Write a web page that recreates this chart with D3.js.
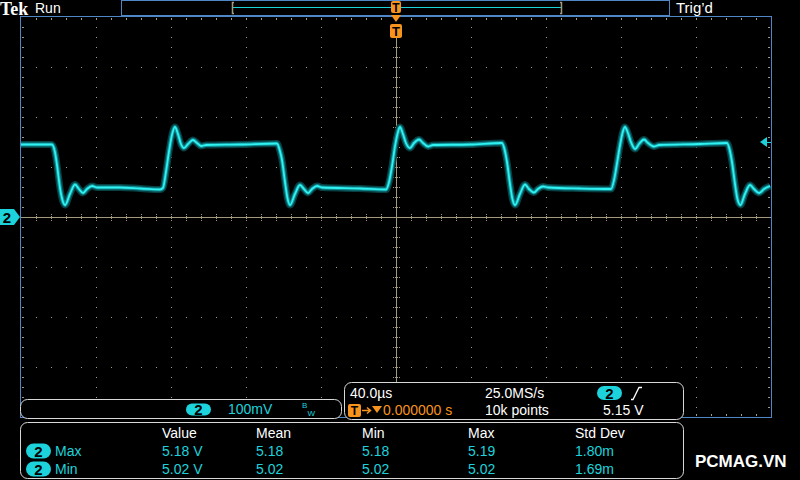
<!DOCTYPE html>
<html>
<head>
<meta charset="utf-8">
<script src="https://cdn.jsdelivr.net/npm/d3@7"></script>
<style>
  html, body { margin: 0; padding: 0; background: #000; }
  svg { display: block; font-family: "Liberation Sans", Arial, sans-serif; }
</style>
</head>
<body>
<div id="scope"></div>
<script>
// trace: time in µs (40 µs/div), ch2 in volts (100 mV/div, 5.00 V at centre)
const timeUs = [-200, -192.5, -183.5, -181.9, -180.8, -179.2, -177.9, -176.5, -173.9, -171.2, -169.1, -166.9, -164.8, -162.1, -159.5,
  -147.2, -136.5, -125.9, -124.3, -122.7, -121.1, -119.5, -117.9, -116.3, -114.7, -113.1, -110.9, -108.3, -106.1, -104.0, -101.3,
  -83.2, -63.5, -61.9, -60.8, -59.2, -57.9, -56.5, -53.9, -51.2, -49.1, -46.9, -44.8, -42.1, -39.5,
  -19.2, -5.3, -3.7, -2.1, -0.5, 0.8, 2.1, 3.7, 5.3, 7.5, 9.6, 12.3, 14.4, 17.1, 19.7,
  39.5, 56.5, 58.1, 59.2, 60.8, 62.1, 63.5, 66.1, 68.8, 70.9, 73.6, 75.7, 78.4, 81.1,
  98.1, 114.7, 116.3, 117.9, 119.5, 120.8, 122.1, 123.7, 125.3, 127.5, 129.6, 132.3, 134.4, 137.6, 140.3,
  162.1, 176.5, 178.1, 179.2, 180.8, 182.1, 183.7, 186.1, 188.8, 190.9, 193.6, 196.3, 199.5];
const ch2Volts = [5.145, 5.145, 5.145, 5.130, 5.104, 5.058, 5.034, 5.024, 5.046, 5.065, 5.056, 5.048, 5.056, 5.062, 5.059,
  5.059, 5.057, 5.055, 5.058, 5.090, 5.130, 5.164, 5.180, 5.166, 5.146, 5.138, 5.146, 5.154, 5.148, 5.142, 5.144,
  5.145, 5.147, 5.132, 5.114, 5.070, 5.038, 5.024, 5.046, 5.064, 5.056, 5.048, 5.056, 5.062, 5.059,
  5.057, 5.055, 5.070, 5.102, 5.142, 5.166, 5.180, 5.166, 5.148, 5.138, 5.148, 5.155, 5.148, 5.141, 5.144,
  5.145, 5.148, 5.132, 5.110, 5.066, 5.036, 5.024, 5.046, 5.065, 5.056, 5.049, 5.056, 5.061, 5.059,
  5.057, 5.056, 5.074, 5.108, 5.144, 5.168, 5.180, 5.168, 5.150, 5.136, 5.146, 5.155, 5.148, 5.141, 5.144,
  5.146, 5.148, 5.132, 5.110, 5.066, 5.036, 5.024, 5.046, 5.064, 5.056, 5.048, 5.056, 5.062];

const timeDivs = [-200, -160, -120, -80, -40, 0, 40, 80, 120, 160, 200];
const voltDivs = [4.6, 4.7, 4.8, 4.9, 5.0, 5.1, 5.2, 5.3, 5.4];
const trigLevel = 5.15;

const measHeaders = ["Value", "Mean", "Min", "Max", "Std Dev"];
const measNames = ["Max", "Min"];
const measValues = [
  ["5.18 V", "5.18", "5.18", "5.19", "1.80m"],
  ["5.02 V", "5.02", "5.02", "5.02", "1.69m"]
];

const cyan = "#1cd3dc", orange = "#f7941d", tan = "#a39a7e", blue = "#4f86c6", frame = "#d8d8d8";

const width = 800, height = 480;
const x = d3.scaleLinear([-200, 200], [21, 771]);
const y = d3.scaleLinear([4.6, 5.4], [417, 17]);
const minorT = d3.range(-200, 200.01, 8);
const minorV = d3.range(4.6, 5.4001, 0.02);

const svg = d3.select("#scope").append("svg")
  .attr("width", width).attr("height", height);

svg.append("rect").attr("width", width).attr("height", height).attr("fill", "#000");

// graticule
const grid = svg.append("g");
grid.append("rect")
  .attr("x", x(-200) - 0.5).attr("y", y(5.4) - 0.5)
  .attr("width", x(200) - x(-200) + 1).attr("height", y(4.6) - y(5.4) + 1)
  .attr("fill", "none").attr("stroke", blue);

timeDivs.slice(1, -1).filter(d => d !== 0).forEach(t => {
  grid.selectAll(null).data(minorV.slice(1, -1)).enter().append("rect")
    .attr("x", x(t)).attr("y", d => y(d)).attr("width", 1).attr("height", 1).attr("fill", tan);
});
voltDivs.slice(1, -1).filter(d => d !== 5.0).forEach(v => {
  grid.selectAll(null).data(minorT.slice(1, -1)).enter().append("rect")
    .attr("x", d => x(d)).attr("y", y(v)).attr("width", 1).attr("height", 1).attr("fill", tan);
});

// edge ticks
grid.selectAll(null).data(minorT.slice(1, -1)).enter().append("rect")
  .attr("x", d => x(d)).attr("y", y(5.4) + 1).attr("width", 1).attr("height", 2).attr("fill", tan);
grid.selectAll(null).data(minorT.slice(1, -1)).enter().append("rect")
  .attr("x", d => x(d)).attr("y", y(4.6) - 3).attr("width", 1).attr("height", 2).attr("fill", tan);
grid.selectAll(null).data(minorV.slice(1, -1)).enter().append("rect")
  .attr("x", x(-200) + 1).attr("y", d => y(d)).attr("width", 2).attr("height", 1).attr("fill", tan);
grid.selectAll(null).data(minorV.slice(1, -1)).enter().append("rect")
  .attr("x", x(200) - 3).attr("y", d => y(d)).attr("width", 2).attr("height", 1).attr("fill", tan);

// centre crosshair
grid.append("line")
  .attr("x1", x(-200)).attr("x2", x(200)).attr("y1", y(5.0) + 0.5).attr("y2", y(5.0) + 0.5)
  .attr("stroke", tan);
grid.append("line")
  .attr("x1", x(0) + 0.5).attr("x2", x(0) + 0.5).attr("y1", 38).attr("y2", y(4.6))
  .attr("stroke", tan);
grid.selectAll(null).data(minorT.slice(1, -1)).enter().append("line")
  .attr("x1", d => x(d) + 0.5).attr("x2", d => x(d) + 0.5)
  .attr("y1", y(5.0) - 3).attr("y2", y(5.0) + 4)
  .attr("stroke", tan).attr("stroke-dasharray", "1,1");
grid.selectAll(null).data(minorV.slice(1, -1)).enter().append("line")
  .attr("x1", x(0) - 3).attr("x2", x(0) + 4)
  .attr("y1", d => y(d) + 0.5).attr("y2", d => y(d) + 0.5)
  .attr("stroke", tan).attr("stroke-dasharray", "1,1");

// trace: dim persistence halo under a bright core
const pts = timeUs.map((t, i) => [t, ch2Volts[i]]);
const line = d3.line().x(d => x(d[0])).y(d => y(d[1])).curve(d3.curveMonotoneX);
const trace = svg.append("g").attr("fill", "none").attr("stroke-linejoin", "round");
trace.append("path").attr("d", line(pts)).attr("stroke", "#083f42").attr("stroke-width", 7);
trace.append("path").attr("d", line(pts)).attr("stroke", "#0f8d93").attr("stroke-width", 4);
trace.append("path").attr("d", line(pts)).attr("stroke", "#30f2f2").attr("stroke-width", 1.8);

// ch2 ground marker and trigger level arrow
svg.append("path")
  .attr("d", `M0,${y(5.0) - 8}H14L20,${y(5.0)}L14,${y(5.0) + 8}H0Z`)
  .attr("fill", cyan);
svg.append("text").attr("x", 7).attr("y", y(5.0) + 6)
  .attr("text-anchor", "middle").attr("font-weight", "bold").attr("font-size", 15)
  .attr("fill", "#000").text("2");
svg.append("path")
  .attr("d", `M760,${y(trigLevel)}L767,${y(trigLevel) - 5}V${y(trigLevel) + 5}Z`)
  .attr("fill", cyan);
svg.append("line").attr("x1", 766).attr("x2", 771)
  .attr("y1", y(trigLevel) + 0.5).attr("y2", y(trigLevel) + 0.5).attr("stroke", cyan);

// header
svg.append("text").attr("x", 0).attr("y", 15)
  .attr("font-family", "Liberation Serif, serif").attr("font-weight", "bold")
  .attr("font-size", 18).attr("fill", "#fff").text("Tek");
svg.append("text").attr("x", 35).attr("y", 13).attr("font-size", 14).attr("fill", "#fff").text("Run");
svg.append("text").attr("x", 676).attr("y", 13).attr("font-size", 15).attr("fill", "#fff").text("Trig’d");

svg.append("rect").attr("x", 121.5).attr("y", 0.5).attr("width", 548).attr("height", 15)
  .attr("fill", "#000").attr("stroke", blue);
svg.append("line").attr("x1", 233).attr("x2", 561).attr("y1", 7.5).attr("y2", 7.5).attr("stroke", cyan);
svg.append("path").attr("d", "M234,2.5H232.5V13.5H234M560,2.5H561.5V13.5H560")
  .attr("fill", "none").attr("stroke", tan).attr("stroke-width", 1.5);

// trigger position markers
svg.append("rect").attr("x", 391).attr("y", 1).attr("width", 10).attr("height", 12).attr("rx", 2).attr("fill", orange);
svg.append("text").attr("x", 396).attr("y", 12).attr("text-anchor", "middle")
  .attr("font-size", 12).attr("font-weight", "bold").attr("fill", "#000").text("T");
svg.append("path").attr("d", "M391,15H401L396,22Z").attr("fill", orange);
svg.append("rect").attr("x", 390).attr("y", 24).attr("width", 12).attr("height", 14).attr("rx", 2).attr("fill", orange);
svg.append("text").attr("x", 396).attr("y", 36).attr("text-anchor", "middle")
  .attr("font-size", 13).attr("font-weight", "bold").attr("fill", "#000").text("T");

// bottom panels
function panel(x0, y0, w, h) {
  svg.append("rect").attr("x", x0 + 0.5).attr("y", y0 + 0.5).attr("width", w).attr("height", h)
    .attr("rx", 7).attr("fill", "#000").attr("stroke", frame);
}
function pill(cx, cy, w, h) {
  svg.append("rect").attr("x", cx - w / 2).attr("y", cy - h / 2).attr("width", w).attr("height", h)
    .attr("rx", h / 2).attr("fill", cyan);
  svg.append("text").attr("x", cx).attr("y", cy + 5.5).attr("text-anchor", "middle")
    .attr("font-size", 15).attr("font-weight", "bold").attr("fill", "#000").text("2");
}
function label(tx, ty, s, color) {
  return svg.append("text").attr("x", tx).attr("y", ty).attr("font-size", 14).attr("fill", color).text(s);
}

panel(20, 399, 321, 19);
pill(198.5, 409.5, 25, 12);
label(228, 414, "100mV", cyan);
label(302, 408, "B", cyan).attr("font-size", 8);
label(307.5, 416, "W", cyan).attr("font-size", 8);

panel(344, 382, 339, 37);
label(350, 398, "40.0µs", "#fff");
label(485, 398, "25.0MS/s", "#fff");
pill(609.5, 393, 25, 14);
svg.append("path").attr("d", "M631,399.5H633L639,387.5H642")
  .attr("fill", "none").attr("stroke", "#fff").attr("stroke-width", 1.3);
svg.append("rect").attr("x", 348).attr("y", 404).attr("width", 13).attr("height", 13).attr("rx", 2).attr("fill", orange);
svg.append("text").attr("x", 354.5).attr("y", 415).attr("text-anchor", "middle")
  .attr("font-size", 12).attr("font-weight", "bold").attr("fill", "#000").text("T");
svg.append("path").attr("d", "M362,410.5H370M367,407.5L370.5,410.5L367,413.5")
  .attr("fill", "none").attr("stroke", orange).attr("stroke-width", 1.5);
svg.append("path").attr("d", "M372,406H382L377,413Z").attr("fill", orange);
label(383, 415, "0.000000 s", orange);
label(485, 415, "10k points", "#fff");
label(603, 415, "5.15 V", "#fff");

panel(20, 422, 663, 56);
const colX = [162, 256, 362, 468, 575];
measHeaders.forEach((h, i) => label(colX[i], 438, h, "#fff"));
measNames.forEach((n, r) => {
  const by = 456 + r * 18;
  pill(38.5, by - 5, 25, 15);
  label(55, by, n, cyan);
  measValues[r].forEach((v, i) => label(colX[i], by, v, cyan));
});

svg.append("text").attr("x", 695).attr("y", 467)
  .attr("font-size", 17).attr("font-weight", "bold").attr("fill", "#fff").text("PCMAG.VN");
</script>
</body>
</html>
